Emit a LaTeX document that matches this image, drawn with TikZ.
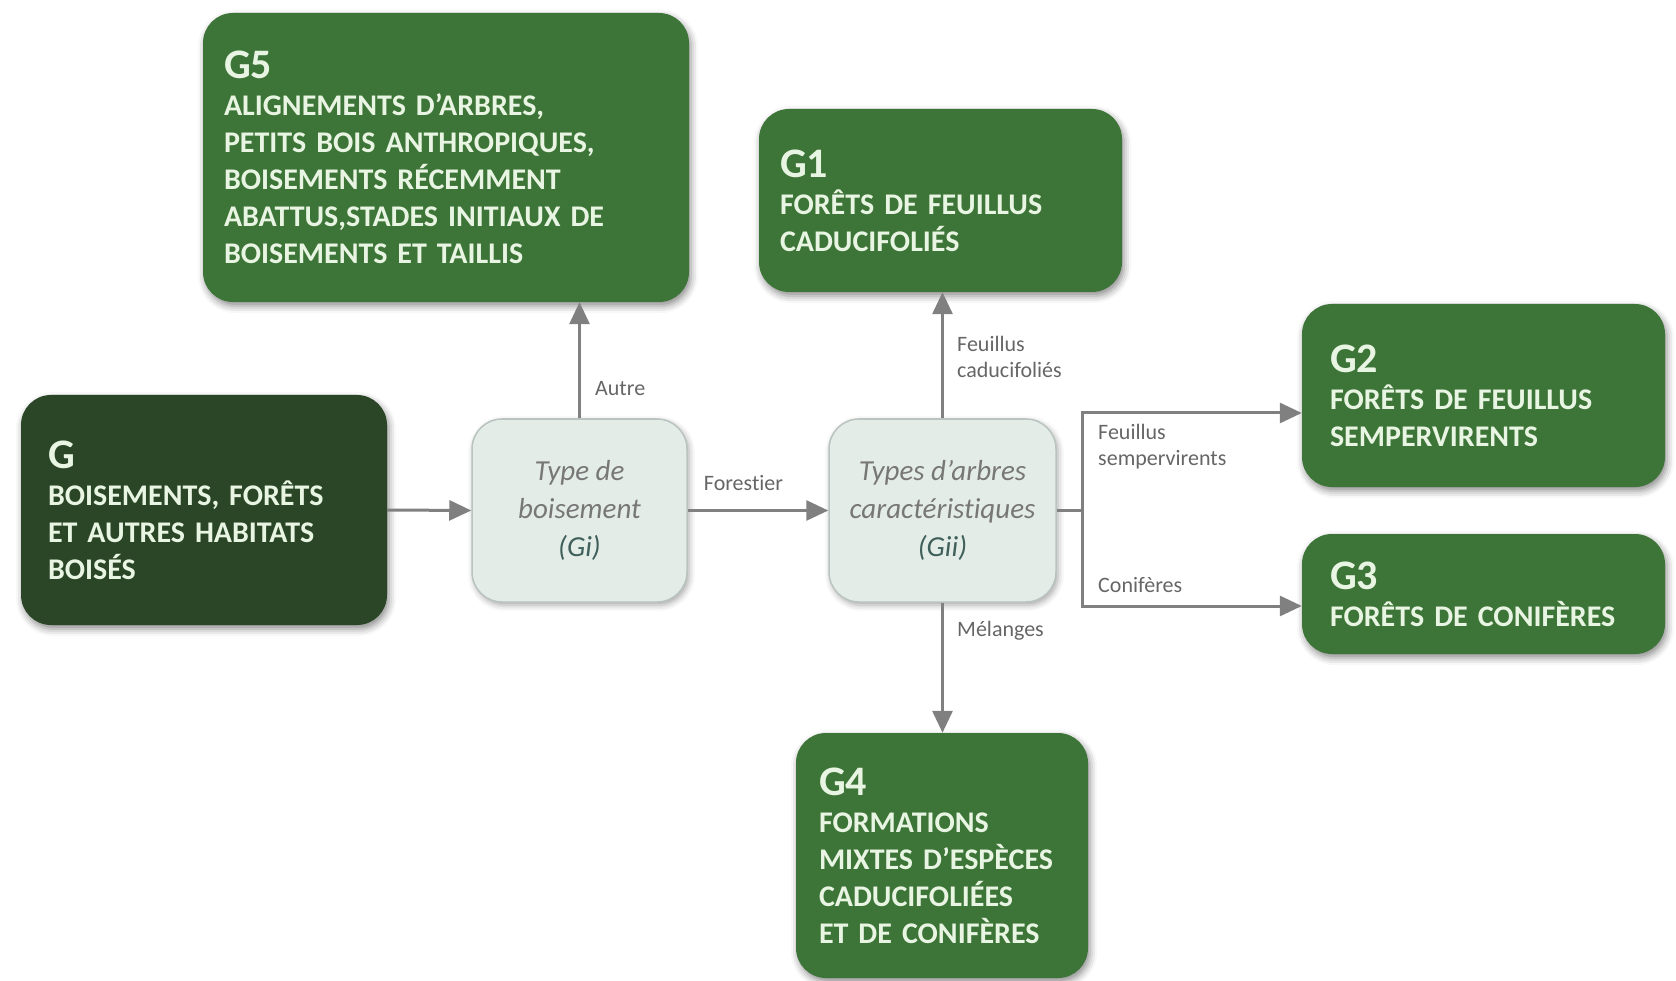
\documentclass[tikz,border=0pt]{standalone}
\usepackage{fontspec}
\setmainfont{Carlito}[Ligatures=NoCommon]
\usetikzlibrary{arrows.meta,shadows.blur}
\definecolor{gmid}{HTML}{3D7437}
\definecolor{gdark}{HTML}{2A4626}
\definecolor{gtxt}{HTML}{E9F5E3}
\definecolor{pbox}{HTML}{E4ECE8}
\definecolor{pborder}{HTML}{B9C3BF}
\definecolor{arr}{HTML}{808080}
\definecolor{lblc}{HTML}{666666}
\definecolor{gitxt}{HTML}{777777}
\definecolor{gicode}{HTML}{3F5F5A}
\tikzset{
  habitat/.style={rectangle, rounded corners=30pt, fill=gmid, text=gtxt,
    font=\bfseries\fontsize{30}{37}\selectfont, align=left, inner xsep=21pt, inner ysep=0pt,
    blur shadow={shadow xshift=2pt, shadow yshift=-4pt, shadow blur radius=7pt, shadow opacity=45}},
  crit/.style={rectangle, rounded corners=30pt, fill=pbox, draw=pborder, line width=1.5pt, text=gitxt,
    font=\itshape\fontsize{29}{38}\selectfont, align=center, inner sep=0pt,
    blur shadow={shadow xshift=2pt, shadow yshift=-3pt, shadow blur radius=6pt, shadow opacity=35}},
  lbl/.style={font=\fontsize{22}{26}\selectfont, text=lblc, align=left, inner sep=0pt},
  conn/.style={draw=arr, line width=3pt, -{Triangle[length=22pt,width=20pt]}},
  plainline/.style={draw=arr, line width=3pt},
}
\newcommand{\ttl}[1]{{\fontsize{42}{37}\selectfont #1}}
\begin{document}
\begin{tikzpicture}[x=1pt,y=-1pt]
\useasboundingbox (0,0) rectangle (1676,981);

\node[habitat, text width=444pt, minimum height=289pt] (g5) at (446,157.5)
 {\ttl{G5}\\ALIGNEMENTS D’ARBRES,\\PETITS BOIS ANTHROPIQUES,\\BOISEMENTS RÉCEMMENT\\ABATTUS,STADES INITIAUX DE\\BOISEMENTS ET TAILLIS};
\node[habitat, text width=321pt, minimum height=183pt] (g1) at (940.5,200.5)
 {\ttl{G1}\\FORÊTS DE FEUILLUS\\CADUCIFOLIÉS};
\node[habitat, fill=gdark, inner xsep=27pt, text width=312pt, minimum height=230pt] (g) at (204,510)
 {\ttl{G}\\BOISEMENTS, FORÊTS\\ET AUTRES HABITATS\\BOISÉS};
\node[habitat, inner xsep=28pt, text width=307pt, minimum height=183pt] (g2) at (1483.5,395.5)
 {\ttl{G2}\\FORÊTS DE FEUILLUS\\SEMPERVIRENTS};
\node[habitat, inner xsep=28pt, text width=307pt, minimum height=120pt] (g3) at (1483.5,594)
 {\ttl{G3}\\FORÊTS DE CONIFÈRES};
\node[habitat, inner xsep=23pt, text width=246pt, minimum height=245pt] (g4) at (942,855.5)
 {\ttl{G4}\\FORMATIONS\\MIXTES D’ESPÈCES\\CADUCIFOLIÉES\\ET DE CONIFÈRES};

\node[crit, minimum width=215pt, minimum height=183pt] (gi) at (579.5,510.5)
 {Type de\\boisement\\{\color{gicode}(Gi)}};
\node[crit, minimum width=227pt, minimum height=183pt] (gii) at (942.5,510.5)
 {Types d’arbres\\caractéristiques\\{\color{gicode}(Gii)}};

\coordinate (bt) at (1082,413);
\coordinate (bb) at (1082,606);

\draw[conn] (g.east) -- (gi.west);
\draw[conn] (gi.east) -- (gii.west);
\draw[conn] (gi.north) -- (gi.north |- g5.south);
\draw[conn] (gii.north) -- (gii.north |- g1.south);
\draw[conn] (gii.south) -- (gii.south |- g4.north);
\draw[plainline] (gii.east) -- (gii.east -| bt);
\draw[conn] (bb) -- (bt) -- (bt -| g2.west);
\draw[conn] (bt) -- (bb) -- (bb -| g3.west);

\node[lbl, anchor=west] (lautre) at (595,389) {Autre};
\node[lbl] (lforest) at (743.5,483) {Forestier};
\node[lbl, anchor=west] (lcaduc) at (957,357) {Feuillus\\caducifoliés};
\node[lbl, anchor=west] (lsemp) at (1098,447) {Feuillus\\sempervirents};
\node[lbl, anchor=west] (lconif) at (1098,585) {Conifères};
\node[lbl, anchor=west] (lmel) at (957,631) {Mélanges};
\end{tikzpicture}
\end{document}
